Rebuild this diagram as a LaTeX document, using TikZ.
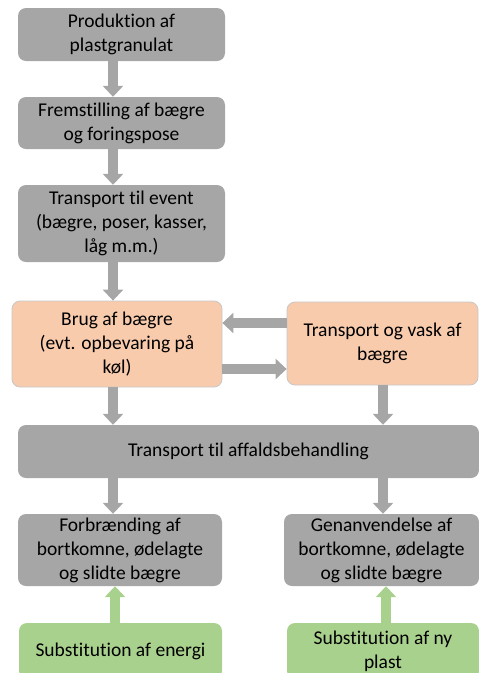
\documentclass[tikz,border=0pt]{standalone}
\usepackage{fontspec}
\setmainfont{Carlito}[Ligatures=NoCommon]
\usepackage{tikz}
\usetikzlibrary{arrows.meta, positioning, calc}
\definecolor{boxgray}{HTML}{A6A6A6}
\definecolor{peach}{HTML}{F8CBAD}
\definecolor{leaf}{HTML}{A9D18E}

\begin{document}
\begin{tikzpicture}[
  x=1pt, y=-1pt,
  font=\fontsize{19.5}{24}\selectfont,
  stage/.style={fill=boxgray, rounded corners=8pt, align=center, inner sep=0pt},
  usebox/.style={stage, fill=peach, draw=black!22, line width=0.8pt},
  subst/.style={stage, fill=leaf},
  flow/.style={-{Triangle[width=20pt, length=11pt]}, line width=10pt, boxgray},
  gain/.style={flow, leaf}
]
  \useasboundingbox (0,0) rectangle (479,673);
  \coordinate (lc) at (113,0);
  \coordinate (rc) at (383,0);
  \coordinate (lg) at (115,0);
  \coordinate (rg) at (386,0);
  \coordinate (back) at (0,323);
  \coordinate (forth) at (0,369);

  \node[stage, minimum width=207, minimum height=53] (s1) at (121.5,34.5)
    {Produktion af\\plastgranulat};
  \node[stage, minimum width=207, minimum height=52] (s2) at (121.5,123)
    {Fremstilling af bægre\\og foringspose};
  \node[stage, minimum width=207, minimum height=77] (s3) at (121.5,223.5)
    {Transport til event\\(bægre, poser, kasser,\\låg m.m.)};
  \node[usebox, minimum width=210, minimum height=86] (s4) at (117,344)
    {Brug af bægre\\(evt. opbevaring på\\køl)};
  \node[usebox, minimum width=191, minimum height=83] (s5) at (382.5,343.5)
    {Transport og vask af\\bægre};
  \node[stage, minimum width=461, minimum height=53] (s6) at (248.5,451.5)
    {Transport til affaldsbehandling};
  \node[stage, minimum width=204, minimum height=72] (s7) at (120,550)
    {Forbrænding af\\bortkomne, ødelagte\\og slidte bægre};
  \node[stage, minimum width=195, minimum height=72] (s8) at (381.5,550)
    {Genanvendelse af\\bortkomne, ødelagte\\og slidte bægre};
  \node[subst, minimum width=203, minimum height=56] (s9) at (120.5,651)
    {Substitution af energi};
  \node[subst, minimum width=192, minimum height=56] (s10) at (383,651)
    {Substitution af ny\\plast};

  \draw[flow] (s1.south -| lc) -- (s2.north -| lc);
  \draw[flow] (s2.south -| lc) -- (s3.north -| lc);
  \draw[flow] (s3.south -| lc) -- (s4.north -| lc);
  \draw[flow] (s5.west |- back) -- (s4.east |- back);
  \draw[flow] (s4.east |- forth) -- (s5.west |- forth);
  \draw[flow] (s4.south -| lc) -- (s6.north -| lc);
  \draw[flow] (s5.south -| rc) -- (s6.north -| rc);
  \draw[flow] (s6.south -| lc) -- (s7.north -| lc);
  \draw[flow] (s6.south -| rc) -- (s8.north -| rc);
  \draw[gain] (s9.north -| lg) -- (s7.south -| lg);
  \draw[gain] (s10.north -| rg) -- (s8.south -| rg);
\end{tikzpicture}
\end{document}
